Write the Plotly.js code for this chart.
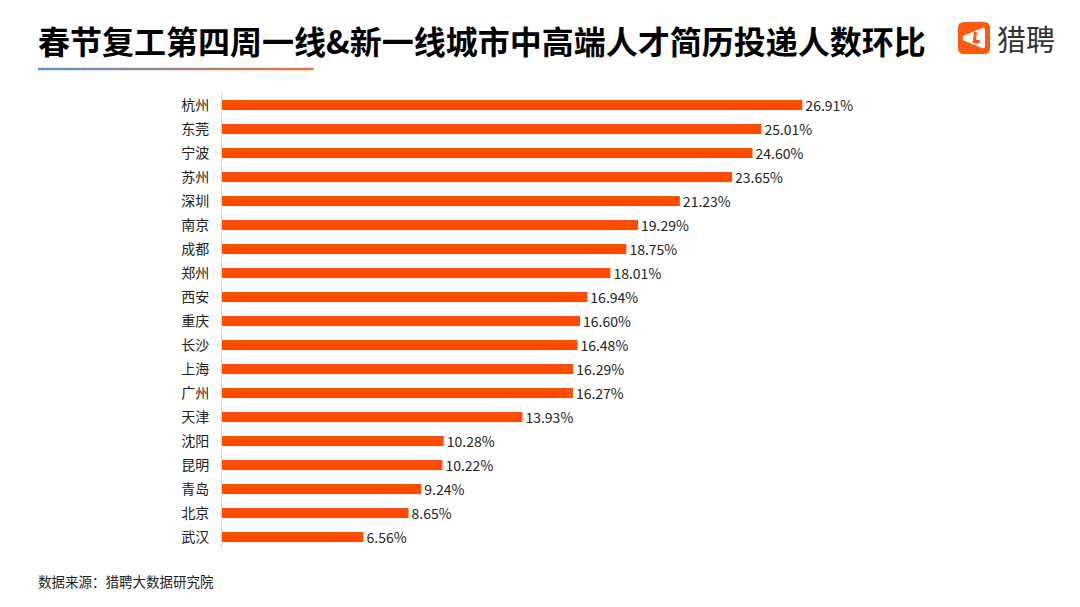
<!DOCTYPE html>
<html><head><meta charset="utf-8">
<script src="https://cdn.plot.ly/plotly-3.0.1.min.js"></script>
<style>html,body{margin:0;padding:0;background:#fff}#c{width:1080px;height:607px}</style>
</head><body><div id="c"></div>
<script>
const cities = ["杭州","东莞","宁波","苏州","深圳","南京","成都","郑州","西安","重庆","长沙","上海","广州","天津","沈阳","昆明","青岛","北京","武汉"];
const values = [26.91,25.01,24.60,23.65,21.23,19.29,18.75,18.01,16.94,16.60,16.48,16.29,16.27,13.93,10.28,10.22,9.24,8.65,6.56];
const labels = values.map(v => v.toFixed(2) + "%");

const W = 1080, H = 607, L = 222, R = 211, T = 93, B = 58;
const pw = W - L - R, ph = H - T - B;
const px = x => (x - L) / pw;
const py = y => (H - B - y) / ph;

const shapes = [];
// gradient underline under title
const gx0 = 38, gx1 = 313, n = 60;
for (let i = 0; i < n; i++) {
  const t = i / (n - 1);
  const r = Math.round(90 + (235 - 90) * t), g = Math.round(145 + (115 - 145) * t), b = Math.round(215 + (50 - 215) * t);
  shapes.push({type:'rect', xref:'paper', yref:'paper',
    x0: px(gx0 + (gx1 - gx0) * i / n), x1: px(gx0 + (gx1 - gx0) * (i + 1) / n + 0.8),
    y0: py(67.8), y1: py(70.2), fillcolor:`rgb(${r},${g},${b})`, line:{width:0}});
}
function rr(x0, y0, x1, y1, rad) {
  return `M${px(x0+rad)},${py(y0)} L${px(x1-rad)},${py(y0)} Q${px(x1)},${py(y0)} ${px(x1)},${py(y0+rad)} L${px(x1)},${py(y1-rad)} Q${px(x1)},${py(y1)} ${px(x1-rad)},${py(y1)} L${px(x0+rad)},${py(y1)} Q${px(x0)},${py(y1)} ${px(x0)},${py(y1-rad)} L${px(x0)},${py(y0+rad)} Q${px(x0)},${py(y0)} ${px(x0+rad)},${py(y0)} Z`;
}
shapes.push({type:'path', xref:'paper', yref:'paper', path: rr(958,22,990,54,6), fillcolor:'#FF5A0F', line:{width:0}});
shapes.push({type:'path', xref:'paper', yref:'paper',
  path:`M${px(963)},${py(38)} Q${px(962)},${py(36)} ${px(965)},${py(35)} L${px(982)},${py(28)} Q${px(985)},${py(27)} ${px(985)},${py(30)} L${px(985)},${py(46)} Q${px(985)},${py(49)} ${px(982)},${py(48)} L${px(965)},${py(41)} Q${px(962)},${py(40)} ${px(963)},${py(38)} Z`,
  fillcolor:'#ffffff', line:{width:0}});
shapes.push({type:'path', xref:'paper', yref:'paper',
  path:`M${px(974)},${py(32)} L${px(977)},${py(32)} L${px(976)},${py(40)} L${px(980)},${py(40)} L${px(979.5)},${py(43)} L${px(972.5)},${py(43)} Z`,
  fillcolor:'#FF5A0F', line:{width:0}});

const data = [{
  type:'bar', orientation:'h', y: cities, x: values,
  text: labels, textposition:'outside', cliponaxis:false, constraintext:'none',
  textfont:{family:'"Noto Sans CJK SC", "Noto Sans", sans-serif', size:14, color:'#222'},
  marker:{color:'#FF4C00'}, hoverinfo:'none'
}];

const layout = {
  width: W, height: H, margin:{l:L, r:R, t:T, b:B},
  paper_bgcolor:'#fff', plot_bgcolor:'#fff',
  bargap: 0.58, showlegend:false,
  font:{family:'"Noto Sans CJK SC", sans-serif', color:'#222'},
  xaxis:{range:[0,30], visible:false, fixedrange:true},
  yaxis:{autorange:'reversed', showgrid:false, zeroline:false, showline:true, linecolor:'#d9d9d9', linewidth:1,
    ticks:'', ticklen:0, tickfont:{size:14, color:'#222', family:'"Noto Sans CJK SC", sans-serif'}, ticklabelstandoff:9},
  shapes: shapes,
  annotations:[
    {xref:'paper', yref:'paper', x:px(36), y:py(40), xanchor:'left', yanchor:'middle', showarrow:false,
     text:'<b>春节复工第四周一线&新一线城市中高端人才简历投递人数环比</b>',
     font:{size:32, color:'#000', family:'"Noto Sans CJK SC", sans-serif'}},
    {xref:'paper', yref:'paper', x:px(995), y:py(38), xanchor:'left', yanchor:'middle', showarrow:false,
     text:'猎聘', font:{size:29, color:'#333', family:'"Noto Sans CJK SC", sans-serif'}},
    {xref:'paper', yref:'paper', x:px(36), y:py(581), xanchor:'left', yanchor:'middle', showarrow:false,
     text:'数据来源：猎聘大数据研究院', font:{size:13.5, color:'#222', family:'"Noto Sans CJK SC", sans-serif'}}
  ]
};
Plotly.newPlot('c', data, layout, {displayModeBar:false, staticPlot:true});
</script></body></html>
